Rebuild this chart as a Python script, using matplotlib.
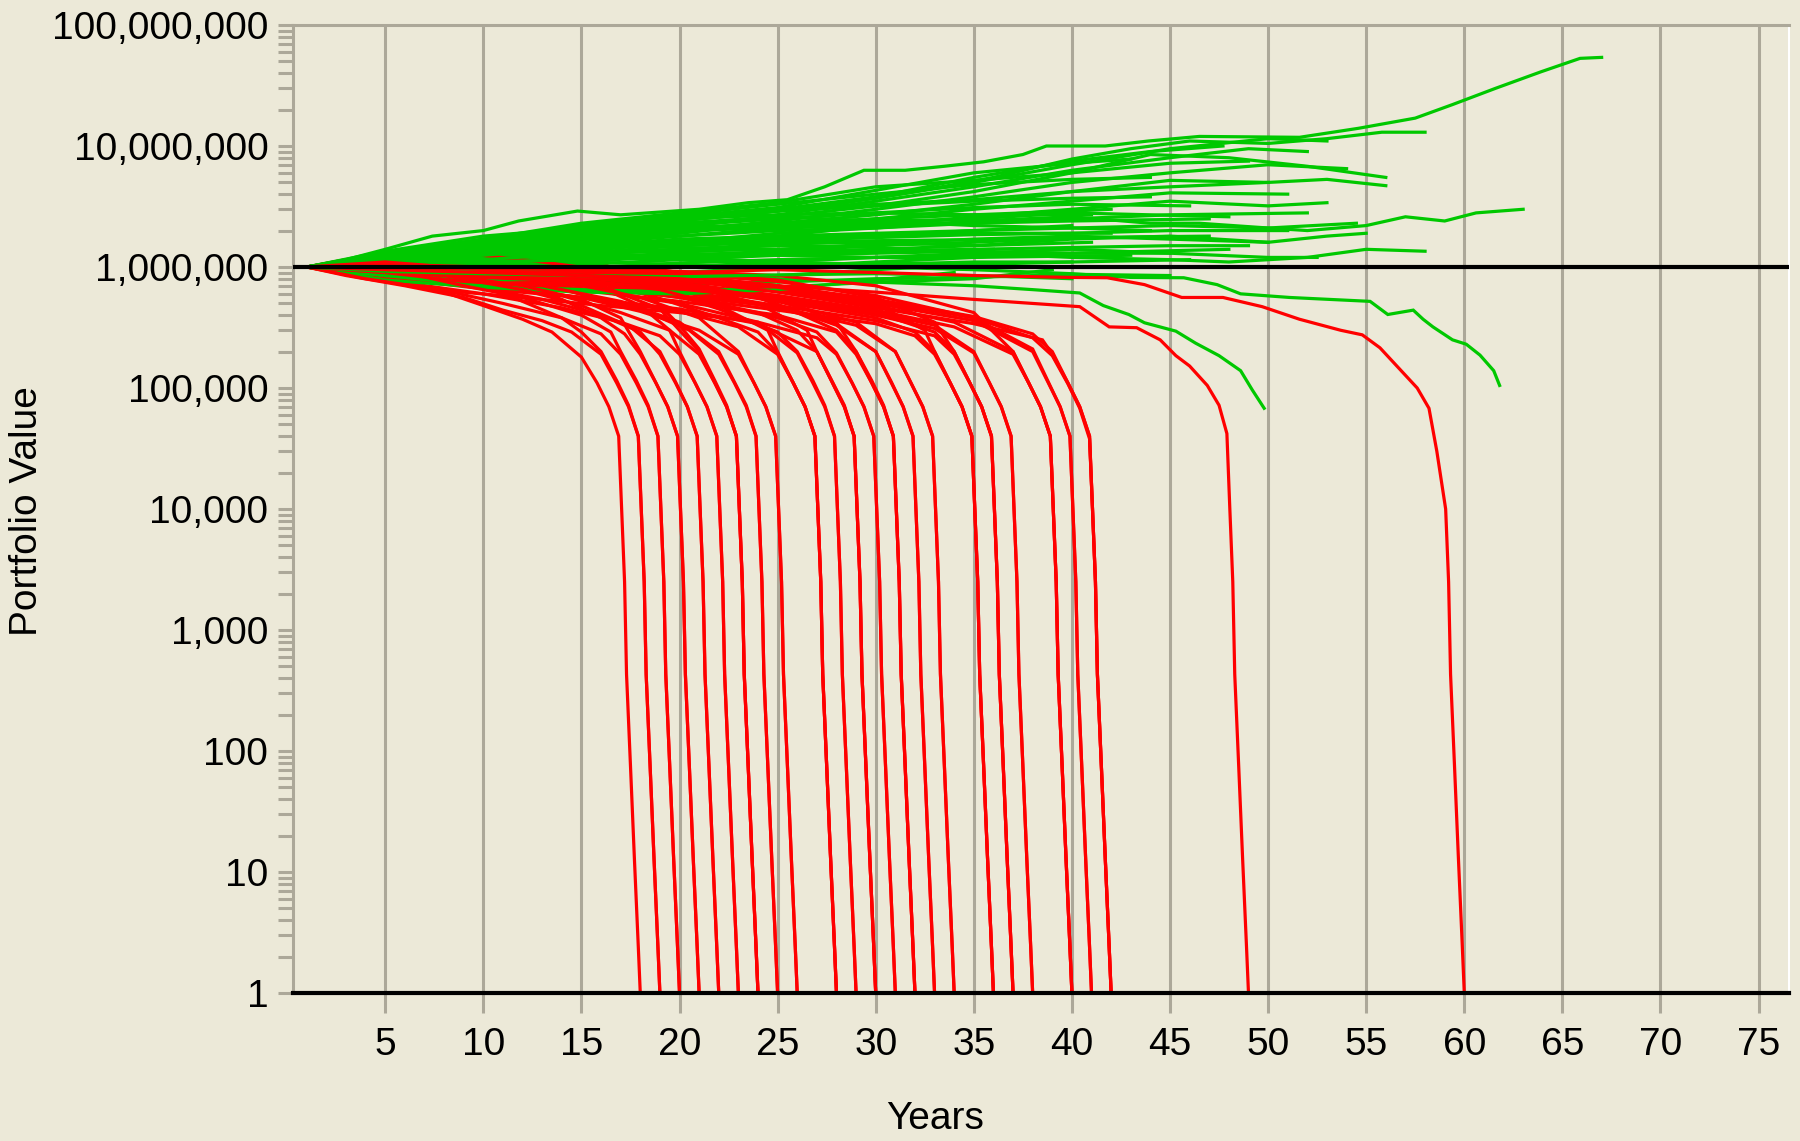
import matplotlib
matplotlib.use("Agg")
import matplotlib.pyplot as plt
from matplotlib import font_manager
from matplotlib.ticker import FixedLocator, FuncFormatter, NullFormatter

# ---------------- data (years, portfolio value in thousands) ----------------
X_TICKS = [5, 10, 15, 20, 25, 30, 35, 40, 45, 50, 55, 60, 65, 70, 75]
Y_TICKS = [1, 10, 100, 1e3, 1e4, 1e5, 1e6, 1e7, 1e8]
START_VALUE = 1e6

# final plunge of a depleted path:
# offsets (years before depletion) and values (dollars)
TAIL_DT = [0.95, 0.8, 0.7, 0.5, 0.3, 0.1, 0.0]
TAIL_VAL = [1.0e4, 2.5e3, 430, 76, 13, 2.4, 1.0]

RED_DEPLETION = [18, 19, 19, 20, 21, 22, 23, 23, 24, 24, 25, 26, 28, 28, 29, 29,
                 30, 30, 31, 32, 32, 33, 34, 36, 36, 37, 37, 38, 40, 40, 41, 42, 42,
                 20, 22, 25, 26, 31, 33, 34, 38, 41,
                 21, 24, 28, 30, 32, 36, 37, 40, 42,
                 49, 60]
RED_BODIES = [
    [(1, 1000), (3, 900), (5, 760), (8, 620), (10, 480), (12, 370), (13.5, 290), (15, 180), (15.8, 110), (16.4, 70), (16.9, 40)],
    [(1, 1000), (3, 850), (6, 700), (9, 560), (11, 440), (13, 360), (14.5, 290), (16, 190), (16.8, 110), (17.4, 70), (17.9, 40)],
    [(1, 1000), (4, 1100), (7, 950), (10, 720), (12, 520), (14, 380), (15, 290), (16, 200), (16.8, 115), (17.4, 72), (17.9, 40)],
    [(1, 1000), (4, 820), (8, 640), (11, 500), (14, 380), (16, 280), (17, 190), (17.8, 110), (18.4, 70), (18.9, 40)],
    [(1, 1000), (3, 1150), (6, 1300), (8, 1100), (11, 800), (14, 540), (16, 380), (17.2, 280), (18, 190), (18.8, 110), (19.4, 70), (19.9, 40)],
    [(1, 1000), (5, 880), (9, 720), (13, 540), (16, 400), (18, 290), (19, 190), (19.8, 110), (20.4, 70), (20.9, 40)],
    [(1, 1000), (4, 1150), (7, 1350), (9, 1600), (12, 1200), (15, 800), (18, 480), (19.5, 300), (20, 200), (20.8, 110), (21.4, 70), (21.9, 40)],
    [(1, 1000), (5, 780), (10, 600), (14, 460), (17, 350), (19, 270), (20, 190), (20.8, 110), (21.4, 70), (21.9, 40)],
    [(1, 1000), (5, 920), (10, 760), (14, 580), (17, 420), (19.5, 300), (21, 190), (21.8, 110), (22.4, 70), (22.9, 40)],
    [(1, 1000), (4, 880), (8, 760), (11, 820), (14, 1100), (16, 1100), (18, 700), (20, 330), (21, 210), (21.8, 115), (22.4, 72), (22.9, 40)],
    [(1, 1000), (5, 1050), (10, 850), (14, 650), (18, 450), (20.5, 300), (22, 190), (22.8, 110), (23.4, 70), (23.9, 40)],
    [(1, 1000), (5, 850), (10, 700), (15, 560), (18, 430), (21, 300), (23, 190), (23.8, 110), (24.4, 70), (24.9, 40)],
    [(1, 1000), (6, 1250), (10, 1000), (15, 820), (19, 550), (22, 380), (24, 290), (25, 195), (25.8, 110), (26.4, 70), (26.9, 40)],
    [(1, 1000), (5, 880), (10, 700), (15, 560), (20, 430), (23, 320), (25, 190), (25.8, 110), (26.4, 70), (26.9, 40)],
    [(1, 1000), (5, 980), (10, 820), (15, 660), (20, 500), (24, 350), (26, 195), (26.8, 110), (27.4, 70), (27.9, 40)],
    [(1, 1000), (4, 1200), (8, 1450), (11, 1200), (15, 900), (19, 650), (22, 450), (25, 290), (26, 200), (26.8, 115), (27.4, 72), (27.9, 40)],
    [(1, 1000), (5, 820), (10, 660), (15, 560), (20, 450), (24, 340), (27, 200), (27.8, 110), (28.4, 70), (28.9, 40)],
    [(1, 1000), (5, 1050), (10, 920), (15, 760), (20, 580), (24, 420), (26, 300), (27, 200), (27.8, 112), (28.4, 72), (28.9, 40)],
    [(1, 1000), (5, 940), (10, 780), (15, 700), (20, 560), (25, 380), (27, 290), (28, 195), (28.8, 110), (29.4, 70), (29.9, 40)],
    [(1, 1000), (5, 880), (10, 800), (15, 640), (20, 520), (25, 400), (28, 290), (29, 190), (29.8, 110), (30.4, 70), (30.9, 40)],
    [(1, 1000), (5, 1100), (10, 1000), (15, 900), (18, 1000), (20, 900), (23, 650), (26, 420), (28, 300), (29, 200), (29.8, 115), (30.4, 72), (30.9, 40)],
    [(1, 1000), (5, 930), (10, 860), (15, 760), (20, 620), (25, 460), (28, 340), (30, 200), (30.8, 110), (31.4, 70), (31.9, 40)],
    [(1, 1000), (5, 860), (10, 720), (15, 660), (20, 580), (25, 470), (29, 330), (31, 200), (31.8, 110), (32.4, 70), (32.9, 40)],
    [(1, 1000), (5, 980), (10, 920), (15, 820), (20, 680), (25, 520), (30, 380), (32, 290), (33, 200), (33.8, 110), (34.4, 70), (34.9, 40)],
    [(1, 1000), (5, 880), (10, 780), (15, 720), (20, 560), (25, 440), (30, 340), (32, 270), (33, 190), (33.8, 110), (34.4, 70), (34.9, 40)],
    [(1, 1000), (5, 1100), (10, 1050), (15, 880), (20, 740), (25, 580), (30, 420), (33, 290), (34, 200), (34.8, 110), (35.4, 70), (35.9, 40)],
    [(1, 1000), (5, 930), (10, 850), (15, 780), (20, 640), (25, 480), (30, 360), (33, 270), (34, 190), (34.8, 110), (35.4, 70), (35.9, 40)],
    [(1, 1000), (5, 1000), (10, 900), (15, 830), (20, 700), (25, 560), (30, 420), (33, 330), (35, 200), (35.8, 110), (36.4, 70), (36.9, 40)],
    [(1, 1000), (5, 1050), (10, 980), (15, 900), (20, 780), (25, 640), (30, 480), (34, 350), (37, 200), (37.8, 110), (38.4, 70), (38.9, 40)],
    [(1, 1000), (5, 940), (10, 870), (15, 840), (20, 720), (25, 580), (30, 440), (34, 320), (37, 190), (37.8, 110), (38.4, 70), (38.9, 40)],
    [(1, 1000), (5, 970), (10, 920), (15, 870), (20, 790), (25, 650), (30, 500), (35, 360), (38, 200), (38.8, 110), (39.4, 70), (39.9, 40)],
    [(1, 1000), (5, 1000), (10, 960), (15, 920), (20, 840), (25, 700), (30, 540), (35, 390), (38, 280), (39, 200), (39.8, 110), (40.4, 70), (40.9, 40)],
    [(1, 1000), (5, 1030), (10, 950), (15, 880), (20, 800), (25, 680), (30, 520), (35, 380), (38, 260), (39, 185), (39.8, 108), (40.4, 68), (40.9, 38)],
    # second group
    [(1, 1000), (3, 1100), (6, 900), (9, 700), (12, 560), (15, 400), (16.5, 290), (17, 200), (17.8, 115), (18.4, 72), (18.9, 40)],
    [(1, 1000), (4, 950), (8, 850), (12, 650), (15, 480), (17.5, 320), (19, 200), (19.8, 112), (20.4, 70), (20.9, 40)],
    [(1, 1000), (5, 900), (9, 760), (13, 700), (17, 520), (20, 350), (22, 200), (22.8, 112), (23.4, 72), (23.9, 40)],
    [(1, 1000), (5, 1000), (10, 900), (14, 760), (18, 560), (21, 380), (23, 200), (23.8, 110), (24.4, 70), (24.9, 40)],
    [(1, 1000), (4, 800), (8, 640), (12, 560), (16, 480), (20, 420), (24, 350), (27, 260), (28, 190), (28.8, 110), (29.4, 70), (29.9, 40)],
    [(1, 1000), (5, 1000), (10, 950), (15, 860), (20, 720), (24, 560), (28, 330), (30, 200), (30.8, 112), (31.4, 70), (31.9, 40)],
    [(1, 1000), (5, 1150), (9, 1300), (13, 1100), (17, 900), (21, 700), (25, 520), (29, 350), (31, 200), (31.8, 110), (32.4, 70), (32.9, 40)],
    [(1, 1000), (5, 920), (10, 820), (15, 760), (20, 660), (25, 540), (30, 400), (33, 310), (35, 195), (35.8, 110), (36.4, 70), (36.9, 40)],
    [(1, 1000), (5, 1000), (10, 1000), (15, 950), (20, 880), (25, 760), (30, 580), (35, 380), (38, 210), (38.8, 112), (39.4, 70), (39.9, 40)],
    # third group
    [(1, 1000), (4, 960), (8, 860), (12, 700), (15, 540), (17, 380), (18, 200), (18.8, 110), (19.4, 70), (19.9, 40)],
    [(1, 1000), (4, 1050), (8, 980), (12, 900), (16, 700), (19, 450), (21, 200), (21.8, 110), (22.4, 70), (22.9, 40)],
    [(1, 1000), (5, 960), (10, 900), (15, 780), (19, 650), (22, 480), (24.5, 300), (25, 200), (25.8, 110), (26.4, 70), (26.9, 40)],
    [(1, 1000), (5, 900), (10, 950), (15, 900), (20, 720), (24, 500), (26.5, 300), (27, 200), (27.8, 110), (28.4, 70), (28.9, 40)],
    [(1, 1000), (5, 970), (10, 940), (15, 820), (20, 700), (25, 560), (28, 350), (29, 200), (29.8, 110), (30.4, 70), (30.9, 40)],
    [(1, 1000), (5, 960), (10, 980), (15, 940), (20, 860), (25, 700), (30, 500), (32.5, 300), (33, 200), (33.8, 110), (34.4, 70), (34.9, 40)],
    [(1, 1000), (5, 1000), (10, 960), (15, 960), (20, 900), (25, 780), (30, 560), (33, 350), (34, 200), (34.8, 110), (35.4, 70), (35.9, 40)],
    [(1, 1000), (5, 990), (10, 970), (15, 960), (20, 920), (25, 850), (30, 700), (35, 420), (37, 200), (37.8, 110), (38.4, 70), (38.9, 40)],
    [(1, 1000), (5, 950), (10, 900), (15, 850), (20, 780), (25, 620), (30, 460), (35, 340), (38.5, 250), (39, 190), (39.8, 110), (40.4, 70), (40.9, 40)],
    # long-lived depleted paths
    [(1, 1000), (5, 1100), (10, 950), (15, 850), (20, 800), (25, 700), (30, 620), (35, 540), (40.4, 470), (41.9, 320),
     (43.3, 315), (44.5, 250), (45.3, 185), (46, 152), (46.9, 105), (47.5, 72), (47.9, 42)],
    [(1, 1000), (5, 1050), (10, 1000), (15, 950), (20, 900), (25, 950), (30, 900), (35, 850), (40, 820), (41.8, 815),
     (43.7, 715), (45.6, 560), (47.7, 560), (49.7, 470), (51.6, 370), (53.7, 300), (54.8, 275), (55.7, 215),
     (57.6, 100), (58.2, 68), (58.6, 30)],
]

GREEN_PATHS = [
    [(1, 1000), (3, 1150), (5, 1400), (7.4, 1800), (10, 2000), (11.8, 2400), (14.8, 2900), (17, 2700), (21, 3000),
     (23.5, 3400), (25.5, 3600), (27.4, 4600), (29.4, 6300), (31.5, 6300), (33.5, 6800), (35.5, 7400), (37.5, 8500),
     (38.7, 10000), (41.7, 10000), (43.9, 11000), (46.5, 12000), (51.6, 11800), (54.6, 14000), (57.5, 17000),
     (59.4, 22000), (61.6, 30000), (63.9, 41000), (65.9, 53000), (67, 54000)],
    [(1, 1000), (4, 1200), (8, 1500), (12, 1800), (16, 2200), (20, 2500), (24, 2800), (28, 3300), (32, 4200), (36, 5500),
     (40, 7800), (43, 9500), (46, 11000), (50, 10500), (53, 11500), (55.8, 13000), (58, 13000)],
    [(1, 1000), (5, 1150), (10, 1400), (15, 1800), (20, 2300), (25, 2600), (30, 3200), (35, 4200), (40, 6000), (44, 8500),
     (48, 8000), (52, 6800), (56, 5500)],
    [(1, 1000), (5, 1100), (10, 1300), (15, 1600), (20, 1900), (25, 2300), (30, 2700), (35, 3300), (40, 4200), (45, 5200),
     (50, 5000), (53, 5300), (56, 4700)],
    [(1, 1000), (5, 1050), (10, 1200), (15, 1450), (20, 1600), (25, 1900), (30, 2100), (35, 2400), (40, 2600), (44, 2300),
     (46.5, 2300), (50, 2100), (52, 2000), (55, 2200), (57, 2600), (59, 2400), (60.6, 2800), (63, 3000)],
    [(1, 1000), (5, 1100), (10, 1250), (15, 1300), (20, 1400), (25, 1500), (30, 1450), (35, 1300), (40, 1200), (45, 1150),
     (48, 1100), (52, 1200), (55, 1400), (58, 1350)],
    [(1, 1000), (5, 950), (10, 1100), (15, 1200), (20, 1150), (25, 1050), (30, 1000), (35, 950), (40, 880), (43, 820),
     (45.7, 815), (47.4, 715), (48.6, 600), (51.1, 560), (55.2, 520), (56.1, 405), (57.4, 440), (57.9, 370), (58.4, 320),
     (59.4, 250), (60.1, 230), (60.8, 187), (61.5, 139), (61.8, 105)],
    [(1, 1000), (5, 900), (10, 850), (15, 950), (20, 900), (25, 800), (30, 750), (35, 700), (38, 650), (40.4, 610),
     (41.6, 480), (42.9, 405), (43.7, 346), (45.3, 295), (46.3, 235), (47.5, 185), (48.6, 139), (49.2, 96), (49.8, 68)],
    [(1, 1000), (5, 1250), (10, 1600), (15, 2000), (20, 2600), (25, 3000), (30, 3800), (35, 5500), (40, 7500), (44, 9000),
     (47.7, 10000)],
    [(1, 1000), (5, 1200), (10, 1500), (15, 1700), (20, 2100), (25, 2700), (30, 3500), (35, 4600), (40, 6300), (45, 8000),
     (49, 9500), (52, 9000)],
    [(1, 1000), (5, 1100), (10, 1350), (15, 1600), (20, 2000), (25, 2400), (30, 3000), (35, 3800), (40, 5000), (45, 6000),
     (50, 7000), (54, 6500)],
    [(1, 1000), (5, 1300), (10, 1700), (15, 2300), (20, 2800), (25, 3400), (30, 4600), (35, 5200), (40, 6000), (45, 7200),
     (49, 7500)],
    [(1, 1000), (5, 1150), (10, 1450), (15, 1700), (20, 1800), (25, 2100), (30, 2500), (35, 3000), (40, 3500), (45, 4100),
     (51, 4000)],
    [(1, 1000), (5, 1000), (10, 1150), (15, 1350), (20, 1600), (25, 1800), (30, 2200), (35, 2600), (40, 3000), (45, 3500),
     (50, 3200), (53, 3400)],
    [(1, 1000), (5, 1200), (10, 1500), (15, 1800), (20, 2000), (25, 2200), (30, 2300), (35, 2500), (40, 2800), (44, 2700),
     (48, 2600)],
    [(1, 1000), (5, 1050), (10, 1150), (15, 1300), (20, 1350), (25, 1400), (30, 1550), (35, 1700), (40, 1800), (45, 1700),
     (50, 1600), (53, 1800), (55, 1900)],
    [(1, 1000), (5, 950), (10, 1000), (15, 1100), (20, 1250), (25, 1300), (30, 1400), (35, 1500), (40, 1700), (45, 1800),
     (50, 1600)],
    [(1, 1000), (5, 900), (10, 850), (15, 900), (20, 1000), (25, 1100), (30, 1200), (35, 1300), (40, 1400), (45, 1300),
     (50, 1200), (52.5, 1200)],
    [(1, 1000), (5, 950), (10, 900), (15, 820), (20, 780), (25, 850), (30, 950), (35, 1050), (40, 1100), (46, 1150)],
    [(1, 1000), (5, 1300), (10, 1700), (15, 2200), (20, 2700), (25, 3300), (30, 4000), (35, 4800), (40, 5300), (44, 5500)],
    [(1, 1000), (5, 1150), (10, 1400), (15, 1600), (20, 2000), (25, 2300), (30, 2500), (35, 2700), (40, 2900), (42, 3000)],
    [(1, 1000), (5, 1100), (10, 1300), (15, 1500), (20, 1700), (25, 1800), (30, 1900), (35, 2000), (40, 2200)],
    [(1, 1000), (5, 880), (10, 800), (15, 760), (20, 720), (25, 750), (30, 800), (35, 820), (40, 870), (45, 850)],
    [(1, 1000), (5, 1000), (10, 1100), (15, 1250), (20, 1400), (25, 1550), (30, 1600), (35, 1500), (41, 1600)],
    [(1, 1000), (5, 850), (10, 780), (15, 800), (20, 900), (25, 1000), (30, 1100), (35, 1200), (38, 1300)],
    [(1, 1000), (5, 1250), (10, 1650), (15, 2100), (20, 2600), (25, 3100), (30, 4300), (35, 6000), (40, 7200), (43, 7800)],
    [(1, 1000), (5, 1200), (10, 1500), (15, 1900), (20, 2100), (25, 2300), (30, 2400), (36, 2500)],
    [(1, 1000), (5, 1100), (10, 1200), (15, 1400), (20, 1550), (25, 1700), (30, 1800), (35, 2000), (40, 2100), (45, 2200),
     (50, 2100), (54.5, 2300)],
    [(1, 1000), (5, 1000), (10, 1050), (15, 1150), (20, 1250), (25, 1350), (30, 1500), (35, 1600), (40, 1750), (47, 1800)],
    [(1, 1000), (5, 850), (10, 700), (15, 650), (20, 620), (25, 680), (30, 750), (35, 800), (39, 950)],
    [(1, 1000), (5, 780), (10, 680), (15, 620), (20, 600), (25, 650), (30, 780), (34, 900)],
    [(1, 1000), (5, 920), (10, 980), (15, 1050), (20, 1150), (25, 1250), (30, 1300), (35, 1350), (40, 1300), (44, 1350),
     (48, 1400)],
    [(1, 1000), (5, 1200), (10, 1400), (15, 1900), (20, 2400), (25, 2900), (30, 3700), (35, 5000), (40, 7000), (45, 9500),
     (50, 11500), (53, 11000)],
    [(1, 1000), (5, 1100), (10, 1350), (15, 1700), (20, 2200), (25, 2600), (30, 2400), (35, 2200), (40, 2100), (44, 2000)],
    [(1, 1000), (5, 1150), (10, 1500), (15, 2100), (20, 2500), (25, 2900), (30, 3300), (35, 3600), (40, 4200), (45, 4600),
     (50, 5000)],
    [(1, 1000), (5, 1250), (10, 1550), (15, 1900), (20, 2200), (25, 2500), (30, 2800), (35, 3100), (40, 3300), (46, 3200)],
    [(1, 1000), (5, 1050), (10, 1200), (15, 1300), (20, 1200), (25, 1100), (30, 1050), (35, 1100), (40, 1100)],
    [(1, 1000), (5, 1100), (10, 1300), (15, 1550), (20, 1800), (25, 2000), (30, 2100), (35, 2300), (40, 2500), (45, 2700),
     (52, 2800)],
    [(1, 1000), (5, 1080), (10, 1150), (15, 1100), (20, 1050), (25, 1000), (30, 1080), (37, 1050)],
    [(1, 1000), (5, 1150), (10, 1250), (15, 1450), (20, 1650), (25, 1750), (30, 1850), (35, 1900), (42, 1900)],
    [(1, 1000), (5, 1000), (10, 1050), (15, 1200), (20, 1300), (25, 1250), (30, 1200), (35, 1250), (40, 1300), (45, 1300)],
    [(1, 1000), (5, 1200), (10, 1400), (15, 1700), (20, 2000), (25, 2100), (30, 2200), (35, 2300), (40, 2400), (47, 2500)],
    [(1, 1000), (5, 1350), (10, 1800), (15, 2100), (20, 2500), (25, 2700), (30, 2800), (35, 2700), (41, 2700)],
    [(1, 1000), (5, 1050), (10, 1100), (15, 1150), (20, 1200), (25, 1300), (30, 1350), (35, 1400), (40, 1450), (45, 1500),
     (49, 1500)],
    [(1, 1000), (5, 1100), (10, 1300), (15, 1450), (20, 1500), (25, 1600), (30, 1650), (38, 1700)],
    [(1, 1000), (5, 1200), (10, 1600), (15, 2000), (20, 2400), (25, 2900), (30, 3200), (35, 3500), (40, 3700), (44, 3800)],
    [(1, 1000), (5, 1150), (10, 1350), (15, 1500), (20, 1450), (25, 1400), (30, 1350), (36, 1400)],
    [(1, 1000), (5, 950), (10, 920), (15, 980), (20, 1080), (25, 1150), (30, 1200), (35, 1200), (43, 1250)],
    [(1, 1000), (5, 1050), (10, 1150), (15, 1300), (20, 1500), (25, 1650), (30, 1750), (35, 1850), (40, 1900), (45, 2000),
     (51, 2000)],
    [(1, 1000), (5, 920), (10, 880), (15, 850), (20, 830), (25, 860), (30, 880), (35, 850), (40, 800)],
]

# ---------------- style ----------------
BG = "#ECE9D8"
GRID = "#ACA899"
RED = "#FF0000"
GREEN = "#00C800"


def pick_font():
    for fam in ["Liberation Sans Narrow", "Arial Narrow", "Liberation Sans"]:
        try:
            font_manager.findfont(font_manager.FontProperties(family=fam), fallback_to_default=False)
            return fam
        except Exception:
            pass
    return "DejaVu Sans"


FONT = pick_font()
FS = 31 if "Narrow" in FONT else 28
plt.rcParams["font.family"] = [FONT, "DejaVu Sans"]

fig = plt.figure(figsize=(18, 11.41), dpi=100, facecolor=BG)
ax = fig.add_axes([293 / 1800, 1 - 993 / 1141, (1789 - 293) / 1800, (993 - 25) / 1141])
ax.set_facecolor(BG)
ax.set_yscale("log")
ax.set_ylim(1, 1e8)
ax.set_xlim(0.3, 76.55)

LW = 2.3
# paths (interleaved red / green)
n = max(len(RED_BODIES), len(GREEN_PATHS))
for i in range(n):
    if i < len(RED_BODIES):
        body = RED_BODIES[i]
        d = RED_DEPLETION[i]
        xs = [p[0] for p in body] + [d - dt for dt in TAIL_DT]
        ys = [p[1] * 1e3 for p in body] + TAIL_VAL
        ax.plot(xs, ys, color=RED, lw=LW, solid_joinstyle="miter", zorder=3)
    if i < len(GREEN_PATHS):
        path = GREEN_PATHS[i]
        ax.plot([p[0] for p in path], [p[1] * 1e3 for p in path], color=GREEN, lw=LW,
                solid_joinstyle="miter", zorder=3)

ax.axhline(START_VALUE, color="black", lw=3.0, zorder=6)

# axes / ticks
ax.xaxis.set_major_locator(FixedLocator(X_TICKS))
ax.xaxis.grid(True, color=GRID, lw=2.2)
ax.set_axisbelow(True)
ax.tick_params(axis="x", which="major", direction="out", length=14.4, width=2.2, color=GRID,
               pad=10, labelsize=FS)
ax.xaxis.set_major_formatter(FuncFormatter(lambda v, p: f"{int(v)}"))

ax.yaxis.set_major_locator(FixedLocator(Y_TICKS))
minor = [m * 10 ** k for k in range(0, 8) for m in range(2, 10)]
ax.yaxis.set_minor_locator(FixedLocator(minor))
ax.yaxis.set_minor_formatter(NullFormatter())
ax.yaxis.set_major_formatter(FuncFormatter(lambda v, p: f"{v:,.0f}"))
ax.tick_params(axis="y", which="both", direction="out", length=10.8, width=2.2, color=GRID,
               pad=7, labelsize=FS)

for side in ["left", "top"]:
    ax.spines[side].set_color(GRID)
    ax.spines[side].set_linewidth(2.2)
ax.spines["right"].set_color("white")
ax.spines["right"].set_linewidth(1.5)
ax.spines["bottom"].set_color("black")
ax.spines["bottom"].set_linewidth(3.0)
ax.spines["bottom"].set_zorder(7)

fig.text(935 / 1800, 1 - 1119 / 1141, "Years", ha="center", va="center", fontsize=FS)
fig.text(27 / 1800, 1 - 511 / 1141, "Portfolio Value", ha="center", va="center", rotation=90, fontsize=FS)

fig.savefig("out.png", dpi=100, facecolor=BG)
